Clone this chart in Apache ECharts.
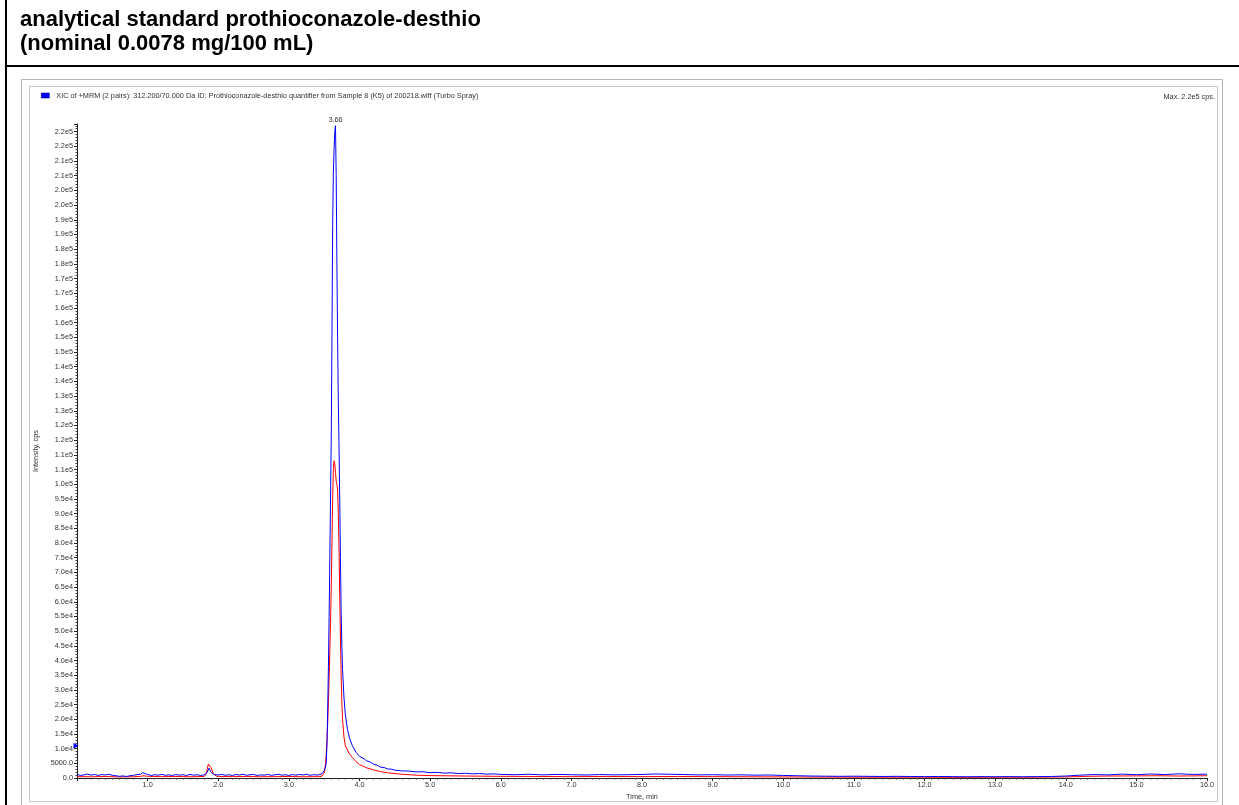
<!DOCTYPE html>
<html>
<head>
<meta charset="utf-8">
<title>Prothioconazole-desthio XIC</title>
<script src="https://cdn.jsdelivr.net/npm/echarts@6/dist/echarts.min.js"></script>
<style>
  html, body { margin: 0; padding: 0; background: #fff; }
  #chart { width: 1239px; height: 805px; }
</style>
</head>
<body>
<div id="chart"></div>
<script>
// Sample heading
const headingLines = ['analytical standard prothioconazole-desthio', '(nominal 0.0078 mg/100 mL)'];

// Trace names
const quantifierName = 'XIC of +MRM (2 pairs): 312.200/70.000 Da ID: Prothioconazole-desthio quantifier from Sample 8 (K5) of 200218.wiff (Turbo Spray)';
const qualifierName = 'Prothioconazole-desthio qualifier';

// Axis titles
const xAxisTitle = 'Time, min';
const yAxisTitle = 'Intensity, cps';

// Axis ranges (min, cps)
const timeRange = [0, 16];
const timeStep = 1;
const intensityRange = [0, 222600];
const intensityStep = 5000;

// Threshold marker level on the intensity axis (cps)
const thresholdLevel = 11000;

// Quantifier trace, [time (min), intensity (cps)]
const quantifierTrace = [
  [0.00, 1300], [0.05, 900], [0.10, 1100], [0.15, 1350], [0.20, 1000], [0.25, 1250],
  [0.30, 900], [0.35, 1200], [0.40, 1050], [0.45, 1300], [0.50, 950], [0.55, 800],
  [0.60, 600], [0.65, 750], [0.70, 550], [0.75, 800], [0.80, 950], [0.85, 1200],
  [0.90, 1300], [0.93, 1900], [0.97, 1500], [1.00, 1250], [1.05, 900], [1.10, 1150],
  [1.15, 1000], [1.20, 1250], [1.25, 950], [1.30, 1100], [1.35, 900], [1.40, 1200],
  [1.45, 1000], [1.50, 1150], [1.55, 900], [1.60, 1250], [1.65, 1000], [1.70, 1150],
  [1.75, 900], [1.80, 1100], [1.84, 1800], [1.87, 3400], [1.90, 1900], [1.95, 1200],
  [2.00, 1050], [2.05, 1250], [2.10, 950], [2.15, 1150], [2.20, 900], [2.25, 1200],
  [2.30, 1050], [2.35, 1300], [2.40, 950], [2.45, 1150], [2.50, 1250], [2.55, 900],
  [2.60, 1100], [2.65, 1000], [2.70, 1250], [2.75, 950], [2.80, 1100], [2.85, 1300],
  [2.90, 1000], [2.95, 1150], [3.00, 900], [3.05, 1200], [3.10, 1000], [3.15, 1250],
  [3.20, 1050], [3.25, 1300], [3.30, 950], [3.35, 1150], [3.40, 1050], [3.44, 1200],
  [3.47, 1500], [3.50, 2500], [3.52, 3800], [3.53, 5500], [3.54, 12000], [3.55, 24000],
  [3.56, 38000], [3.57, 55000], [3.58, 75000], [3.59, 95000], [3.60, 116000], [3.61, 150000],
  [3.62, 188000], [3.63, 206000], [3.64, 214000], [3.65, 220000], [3.66, 222000], [3.67, 205000],
  [3.68, 175000], [3.69, 150000], [3.70, 128000], [3.71, 113000], [3.72, 95000], [3.73, 75000],
  [3.74, 57000], [3.75, 45000], [3.76, 37000], [3.78, 27500], [3.80, 21500], [3.83, 16500],
  [3.86, 13500], [3.90, 11000], [3.95, 8800], [4.00, 7400], [4.05, 6800], [4.10, 5900],
  [4.15, 5500], [4.20, 4700], [4.25, 4400], [4.30, 3700], [4.35, 3600], [4.40, 3100],
  [4.45, 3050], [4.50, 2700], [4.60, 2450], [4.70, 2400], [4.80, 2100], [4.90, 2150],
  [5.00, 1850], [5.10, 1950], [5.20, 1700], [5.30, 1800], [5.40, 1550], [5.50, 1650],
  [5.60, 1450], [5.70, 1550], [5.80, 1350], [5.90, 1450], [6.00, 1250],
  [6.2, 1150], [6.4, 1300], [6.6, 1100], [6.8, 1250], [7.0, 1150], [7.2, 1050],
  [7.4, 1200], [7.6, 1100], [7.8, 1150], [8.0, 1250], [8.2, 1400], [8.4, 1300],
  [8.6, 1200], [8.8, 1100], [9.0, 1150], [9.2, 1050], [9.4, 1100], [9.6, 1000],
  [9.8, 1050], [10.0, 900], [10.2, 800], [10.4, 700], [10.6, 650], [10.8, 600],
  [11.0, 650], [11.2, 600], [11.4, 550], [11.6, 600], [11.8, 550], [12.0, 500],
  [12.2, 550], [12.4, 500], [12.6, 450], [12.8, 500], [13.0, 450], [13.2, 500],
  [13.4, 450], [13.6, 500], [13.8, 550], [14.0, 700], [14.2, 1000], [14.4, 1200],
  [14.6, 1100], [14.8, 1350], [15.0, 1150], [15.2, 1400], [15.4, 1200], [15.6, 1450],
  [15.8, 1250], [16.0, 1350]
];

// Qualifier trace, [time (min), intensity (cps)]
const qualifierTrace = [
  [0.0, 500], [0.2, 450], [0.4, 550], [0.6, 400], [0.8, 450], [0.9, 600],
  [0.95, 800], [1.0, 600], [1.2, 500], [1.4, 550], [1.6, 450], [1.8, 550],
  [1.83, 1500], [1.86, 4800], [1.88, 5300], [1.90, 3500], [1.93, 1500], [1.97, 700],
  [2.0, 550], [2.2, 500], [2.4, 550], [2.6, 450], [2.8, 500], [3.0, 550],
  [3.2, 450], [3.4, 500], [3.44, 500], [3.47, 700], [3.50, 1800], [3.52, 5000],
  [3.53, 8500], [3.54, 13000], [3.55, 19000], [3.56, 26000], [3.57, 34000], [3.58, 43000],
  [3.59, 53000], [3.60, 65000], [3.61, 80000], [3.62, 95000], [3.63, 105000], [3.64, 108000],
  [3.65, 107000], [3.66, 104000], [3.67, 101000], [3.68, 100000], [3.69, 98000], [3.70, 90000],
  [3.71, 78000], [3.72, 62000], [3.73, 48000], [3.74, 35000], [3.75, 25500], [3.76, 20000],
  [3.78, 14000], [3.80, 11000], [3.85, 8500], [3.90, 7000], [3.95, 5600], [4.00, 4600],
  [4.10, 3500], [4.20, 2800], [4.30, 2200], [4.40, 1800], [4.60, 1300], [4.80, 1000],
  [5.00, 850], [5.50, 700], [6.00, 600], [6.5, 550], [7.0, 500], [7.5, 550],
  [8.0, 500], [8.5, 550], [9.0, 500], [9.5, 450], [10.0, 400], [10.5, 350],
  [11.0, 300], [11.5, 300], [12.0, 300], [12.5, 250], [13.0, 300], [13.5, 300],
  [14.0, 400], [14.3, 600], [14.6, 700], [15.0, 750], [15.3, 800], [15.6, 700],
  [16.0, 800]
];

const FONT = '"Liberation Sans", Arial, sans-serif';
const SMALL = 7.3;
const LABEL_COLOR = '#333';

// Intensity labels: plain below 1e4, one-decimal exponent notation above
function formatIntensity(v) {
  if (v < 10000) return v.toFixed(1);
  const e = Math.floor(Math.log10(v));
  const m = Math.round(v / Math.pow(10, e) * 10 + 1e-9) / 10;
  return m.toFixed(1) + 'e' + e;
}

// Apex of the quantifier trace
let apex = quantifierTrace[0];
quantifierTrace.forEach(p => { if (p[1] > apex[1]) apex = p; });

const chart = echarts.init(document.getElementById('chart'), null, { renderer: 'canvas' });

chart.setOption({
  animation: false,
  backgroundColor: '#ffffff',
  textStyle: { fontFamily: FONT },
  title: [
    {
      text: headingLines.join('\n'),
      left: 20, top: 8, padding: 0,
      textStyle: { fontFamily: FONT, fontSize: 22, fontWeight: 'bold', lineHeight: 24, color: '#000' }
    },
    {
      text: 'Max. ' + formatIntensity(apex[1]) + ' cps.',
      right: 24, top: 93, padding: 0,
      textStyle: { fontFamily: FONT, fontSize: SMALL, fontWeight: 'normal', color: LABEL_COLOR }
    }
  ],
  legend: {
    data: [quantifierName],
    left: 41, top: 92, padding: 0,
    icon: 'rect', itemWidth: 8, itemHeight: 5,
    selectedMode: false,
    itemStyle: { color: '#0000ff', borderColor: '#000080', borderWidth: 0.6 },
    textStyle: { fontFamily: FONT, fontSize: SMALL, color: LABEL_COLOR, padding: [0, 0, 0, 2] }
  },
  graphic: [
    // cell borders
    { type: 'line', shape: { x1: 6, y1: 0, x2: 6, y2: 805 }, style: { stroke: '#000', lineWidth: 2 }, silent: true },
    { type: 'line', shape: { x1: 6, y1: 66, x2: 1239, y2: 66 }, style: { stroke: '#000', lineWidth: 2 }, silent: true },
    // plot window frame
    { type: 'rect', shape: { x: 21.5, y: 79.5, width: 1201, height: 730 }, style: { fill: 'none', stroke: '#b4b4b4', lineWidth: 1 }, silent: true },
    { type: 'rect', shape: { x: 29.5, y: 86.5, width: 1188, height: 715 }, style: { fill: 'none', stroke: '#c8c8c8', lineWidth: 1 }, silent: true }
  ],
  grid: { left: 77, right: 32, top: 124, bottom: 23 },
  xAxis: {
    type: 'value',
    min: timeRange[0], max: timeRange[1], interval: timeStep,
    name: xAxisTitle, nameLocation: 'middle', nameGap: 13,
    nameTextStyle: { fontFamily: FONT, fontSize: SMALL, color: LABEL_COLOR },
    axisLine: { lineStyle: { color: '#222', width: 1 } },
    axisTick: { length: 3, lineStyle: { color: '#222' } },
    minorTick: { show: true, splitNumber: 10, length: 1.5, lineStyle: { color: '#444' } },
    axisLabel: { fontFamily: FONT, fontSize: SMALL, color: LABEL_COLOR, margin: 3, showMinLabel: false,
      formatter: v => v.toFixed(1) },
    splitLine: { show: false }
  },
  yAxis: {
    type: 'value',
    min: intensityRange[0], max: intensityRange[1], interval: intensityStep,
    name: yAxisTitle, nameLocation: 'middle', nameGap: 35, nameRotate: 90,
    nameTextStyle: { fontFamily: FONT, fontSize: SMALL, color: LABEL_COLOR },
    axisLine: { show: true, lineStyle: { color: '#222', width: 1 } },
    axisTick: { show: true, length: 3, lineStyle: { color: '#222' } },
    minorTick: { show: true, splitNumber: 5, length: 1.5, lineStyle: { color: '#444' } },
    axisLabel: { fontFamily: FONT, fontSize: SMALL, color: LABEL_COLOR, margin: 4, showMaxLabel: false,
      formatter: formatIntensity },
    splitLine: { show: false }
  },
  series: [
    {
      name: quantifierName,
      type: 'line',
      data: quantifierTrace,
      showSymbol: false,
      color: '#0000ff',
      lineStyle: { color: '#0000ff', width: 1 },
      z: 3,
      markPoint: {
        symbol: 'circle', symbolSize: 0,
        label: { show: true, position: 'top', distance: 2, fontFamily: FONT, fontSize: SMALL, color: LABEL_COLOR,
          formatter: p => p.data.coord[0].toFixed(2) },
        data: [{ coord: apex }]
      }
    },
    {
      name: qualifierName,
      type: 'line',
      data: qualifierTrace,
      showSymbol: false,
      color: '#ff0000',
      lineStyle: { color: '#ff0000', width: 1 },
      z: 2
    },
    {
      // threshold marker on the intensity axis
      name: 'threshold',
      type: 'line',
      data: [],
      markPoint: {
        symbol: 'triangle', symbolSize: [6, 5], symbolRotate: -90, symbolOffset: [-1, 0],
        itemStyle: { color: '#0000ff' },
        label: { show: false },
        data: [{ coord: [timeRange[0], thresholdLevel] }]
      }
    }
  ]
});
</script>
</body>
</html>
